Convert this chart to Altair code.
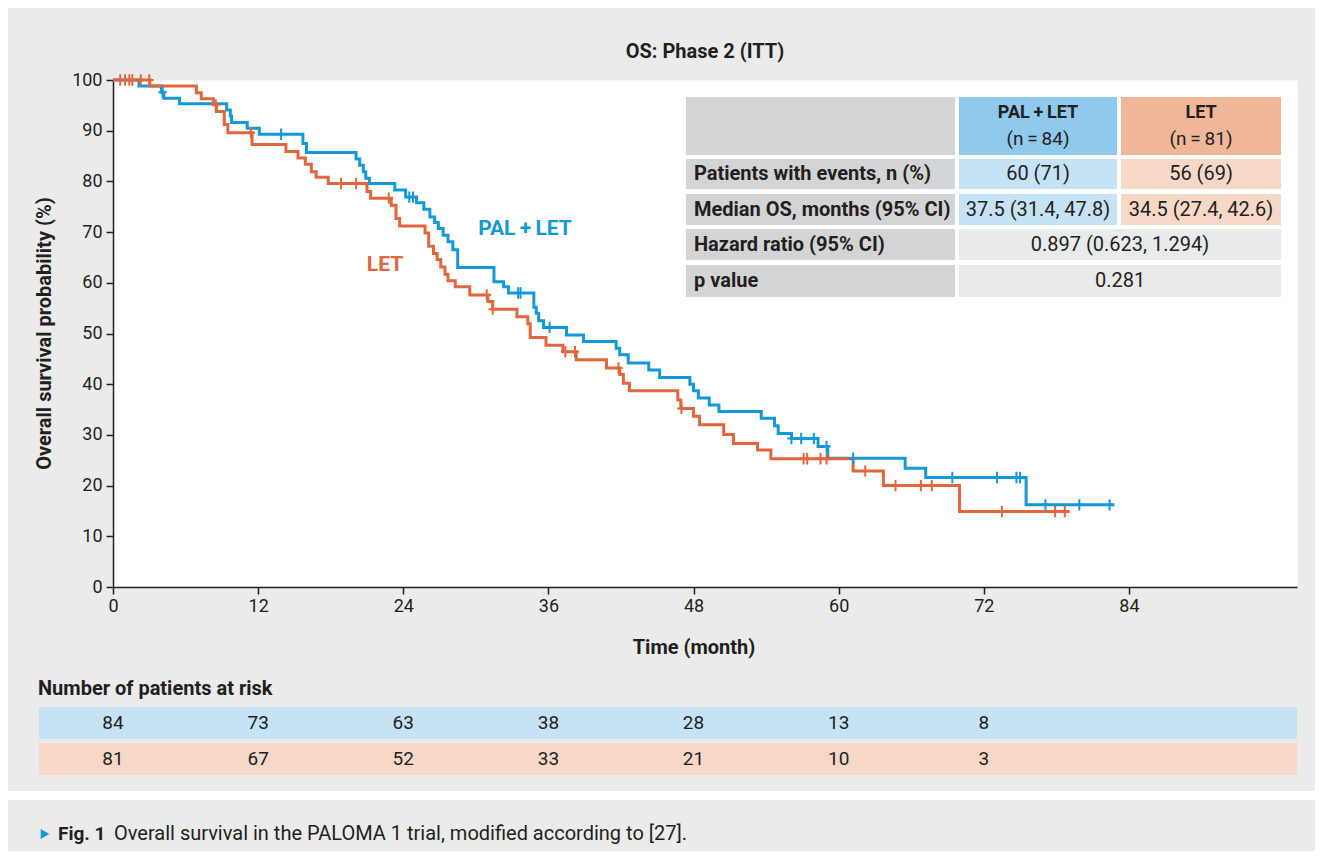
import altair as alt
import pandas as pd

# ---------------- data ----------------
x_ticks = [0, 12, 24, 36, 48, 60, 72, 84]
y_ticks = [0, 10, 20, 30, 40, 50, 60, 70, 80, 90, 100]

pal_times = [0, 2.15, 4.0, 4.2, 5.5, 9.4, 9.7, 9.8, 11.1, 12.1, 15.7, 16.0, 20.1, 20.4, 20.7,
             20.9, 21.2, 23.3, 24.2, 25.1, 25.7, 26.2, 26.6, 26.9, 27.3, 27.7, 28.1, 28.5, 31.5,
             32.3, 32.7, 34.8, 35.0, 35.2, 35.6, 37.5, 38.9, 41.6, 41.9, 42.6, 44.3, 45.2, 47.7,
             48.0, 48.4, 49.3, 50.1, 53.6, 54.7, 55.0, 56.1, 58.3, 59.1, 65.5, 67.2, 75.5, 82.8]
pal_surv = [100, 98.8, 97.6, 96.4, 95.3, 94.1, 92.9, 91.6, 90.5, 89.3, 87.5, 85.7, 84.4, 83.2, 81.9,
            80.6, 79.6, 78.3, 76.9, 75.8, 74.5, 73.0, 71.9, 70.7, 69.4, 68.1, 66.5, 63.0, 60.2,
            59.2, 58.0, 55.2, 54.0, 52.5, 51.2, 49.7, 48.4, 47.1, 45.8, 44.2, 42.8, 41.3, 40.0,
            38.7, 37.3, 35.9, 34.6, 33.3, 31.8, 30.3, 29.3, 27.7, 25.4, 23.4, 21.6, 16.2, 16.2]
pal_censor = [4.1, 13.9, 24.5, 24.8, 33.5, 33.7, 36.1, 56.1, 56.9, 57.95, 59.0, 61.2, 69.4,
              73.1, 74.7, 75.0, 77.1, 79.9, 82.4]

let_times = [0, 3.05, 6.9, 7.3, 8.3, 8.55, 9.2, 9.5, 11.5, 14.3, 15.3, 15.9, 16.4, 16.8, 17.8,
             21.0, 21.3, 23.0, 23.4, 23.7, 25.8, 26.1, 26.5, 26.8, 27.1, 27.45, 27.7, 28.3, 29.5,
             31.0, 31.4, 33.4, 34.3, 34.5, 35.8, 37.2, 38.3, 40.8, 41.9, 42.2, 42.7, 46.7, 46.95,
             48.0, 48.5, 50.5, 51.3, 53.3, 54.4, 61.2, 63.7, 70.0, 79.1]
let_surv = [100, 98.8, 97.5, 96.3, 95.1, 93.8, 91.2, 89.6, 87.3, 85.9, 84.6, 83.4, 81.9, 80.8, 79.6,
            78.0, 76.7, 75.3, 72.7, 71.2, 69.8, 67.2, 65.8, 64.6, 63.1, 61.7, 60.4, 59.2, 57.6,
            56.3, 54.8, 53.3, 51.9, 49.2, 47.7, 46.4, 44.8, 43.2, 41.9, 40.2, 38.7, 36.9, 35.2,
            33.7, 32.0, 30.1, 28.3, 27.0, 25.3, 22.9, 20.0, 14.9, 14.9]
let_censor = [0.6, 1.0, 1.35, 1.6, 2.3, 3.0, 8.5, 11.4, 18.85, 20.1, 22.8, 30.9, 31.4, 37.4, 38.2,
              41.8, 47.0, 57.1, 57.4, 58.5, 59.0, 62.2, 64.7, 66.8, 67.7, 73.5, 77.9, 78.7]

risk_months = [0, 12, 24, 36, 48, 60, 72]
risk_pal = [84, 73, 63, 38, 28, 13, 8]
risk_let = [81, 67, 52, 33, 21, 10, 3]

table_labels = ["Patients with events, n (%)", "Median OS, months (95% CI)",
                "Hazard ratio (95% CI)", "p value"]
table_pal = ["60 (71)", "37.5 (31.4, 47.8)"]
table_let = ["56 (69)", "34.5 (27.4, 42.6)"]
table_shared = ["0.897 (0.623, 1.294)", "0.281"]

# ---------------- style ----------------
FONT = "Roboto"
BLUE = "#1399D7"
ORANGE = "#E2663C"
INK = "#231F20"
BG = "#EAEBEA"

W, H = 1184, 507
XMAX = 97.9
PXM = W / XMAX      # px per month
PXP = H / 100.0     # px per percent


def mx(px):  # page x -> month
    return (px - 113) / PXM


def my(py):  # page y -> percent
    return (587 - py) / PXP


xs = alt.Scale(domain=[0, XMAX], nice=False, zero=False)
ys = alt.Scale(domain=[0, 100], nice=False, zero=False)
xaxis = alt.Axis(values=x_ticks, title=None, labelFlush=False, labelOverlap=False,
                 labelPadding=3, grid=False)
yaxis = alt.Axis(values=y_ticks, title=None, labelOverlap=False, labelPadding=4, grid=False)


def step_lookup(times, surv, t):
    v = surv[0]
    for ti, si in zip(times, surv):
        if ti <= t:
            v = si
    return v


pal_df = pd.DataFrame({"t": pal_times, "s": pal_surv})
let_df = pd.DataFrame({"t": let_times, "s": let_surv})
cens_df = pd.DataFrame(
    [{"t": c, "s": step_lookup(pal_times, pal_surv, c), "col": BLUE} for c in pal_censor]
    + [{"t": c, "s": step_lookup(let_times, let_surv, c), "col": ORANGE} for c in let_censor]
)

# ---------------- layout frames (page pixels -> data units) ----------------
rects = []
rects.append(dict(x1=mx(0), x2=mx(1330), y1=my(791), y2=my(800), fill="#FFFFFF"))
cols = [(686, 955), (959, 1117), (1121, 1281)]
rows = [(97, 155), (159, 189), (194, 225), (229, 260), (265, 297)]
fills = [
    ["#D3D4D5", "#8FC9ED", "#EFB699"],
    ["#D3D4D5", "#C6E2F5", "#F7D8C7"],
    ["#D3D4D5", "#C6E2F5", "#F7D8C7"],
    ["#D3D4D5", "#E9EAEA", None],
    ["#D3D4D5", "#E9EAEA", None],
]
for ri, (ya, yb) in enumerate(rows):
    for ci, (xa, xb) in enumerate(cols):
        f = fills[ri][ci]
        if f is None:
            continue
        if ri >= 3 and ci == 1:
            xb = cols[2][1]
        rects.append(dict(x1=mx(xa), x2=mx(xb), y1=my(ya), y2=my(yb), fill=f))
rects.append(dict(x1=mx(39), x2=mx(1297), y1=my(707), y2=my(739), fill="#C6E2F5"))
rects.append(dict(x1=mx(39), x2=mx(1297), y1=my(743), y2=my(775), fill="#F7D8C7"))
rect_df = pd.DataFrame(rects)

# text rows: x, y, text, color, size
bold_center = [
    dict(x=mx(705), y=my(52), text="OS: Phase 2 (ITT)", col=INK, fs=20),
    dict(x=mx(694), y=my(648), text="Time (month)", col=INK, fs=20),
    dict(x=mx(525), y=my(229), text="PAL\u2009+\u2009LET", col=BLUE, fs=21),
    dict(x=mx(385), y=my(265), text="LET", col=ORANGE, fs=21),
    dict(x=mx(1038), y=my(113), text="PAL\u2009+\u2009LET", col=INK, fs=18),
    dict(x=mx(1201), y=my(113), text="LET", col=INK, fs=18),
]
reg_center = [
    dict(x=mx(1038), y=my(139), text="(n\u2009=\u200984)", col=INK, fs=19),
    dict(x=mx(1201), y=my(139), text="(n\u2009=\u200981)", col=INK, fs=19),
]
row_mid = [174, 210, 245, 281]
bold_left = [dict(x=mx(694), y=my(row_mid[i]), text=lab, col=INK, fs=20)
             for i, lab in enumerate(table_labels)]
bold_left.append(dict(x=mx(38), y=my(689), text="Number of patients at risk", col=INK, fs=20))
bold_left.append(dict(x=mx(58), y=my(834), text="Fig. 1", col=INK, fs=19))
for i in range(2):
    reg_center.append(dict(x=mx(1038), y=my(row_mid[i]), text=table_pal[i], col=INK, fs=20))
    reg_center.append(dict(x=mx(1201), y=my(row_mid[i]), text=table_let[i], col=INK, fs=20))
for i in range(2):
    reg_center.append(dict(x=mx(1120), y=my(row_mid[2 + i]), text=table_shared[i], col=INK, fs=20))
for m, a, b in zip(risk_months, risk_pal, risk_let):
    reg_center.append(dict(x=m, y=my(723), text=str(a), col=INK, fs=19))
    reg_center.append(dict(x=m, y=my(759), text=str(b), col=INK, fs=19))
reg_left = [dict(x=mx(114), y=my(834),
                 text="Overall survival in the PALOMA 1 trial, modified according to [27].",
                 col=INK, fs=20)]
rot = [dict(x=mx(45), y=my(333.5), text="Overall survival probability (%)", col=INK, fs=20)]
tri = pd.DataFrame([dict(x=mx(45), y=my(834))])


def tx(field):
    return alt.X(f"{field}:Q", scale=xs, axis=xaxis)


def ty(field):
    return alt.Y(f"{field}:Q", scale=ys, axis=yaxis)


def text_layer(rows_, weight, align, angle=0):
    return alt.Chart(pd.DataFrame(rows_)).mark_text(
        font=FONT, fontWeight=weight, align=align, baseline="middle", angle=angle
    ).encode(
        x=tx("x"), y=ty("y"), text="text:N",
        color=alt.Color("col:N", scale=None),
        size=alt.Size("fs:Q", scale=None),
    )


rect_layer = alt.Chart(rect_df).mark_rect().encode(
    x=tx("x1"), x2="x2", y=ty("y1"), y2="y2", color=alt.Color("fill:N", scale=None)
)

blue_line = alt.Chart(pal_df).mark_line(
    interpolate="step-after", strokeWidth=3, color=BLUE
).encode(x=tx("t"), y=ty("s"))
orange_line = alt.Chart(let_df).mark_line(
    interpolate="step-after", strokeWidth=3, color=ORANGE
).encode(x=tx("t"), y=ty("s"))

censor = alt.Chart(cens_df).mark_point(
    shape="M0,-1V1M-0.75,0H0.75", filled=False, size=130, strokeWidth=2, opacity=1
).encode(x=tx("t"), y=ty("s"), color=alt.Color("col:N", scale=None))

triangle = alt.Chart(tri).mark_point(
    shape="triangle-right", filled=True, size=100, color=BLUE, opacity=1
).encode(x=tx("x"), y=ty("y"))

chart = alt.layer(
    rect_layer,
    blue_line,
    orange_line,
    censor,
    text_layer(bold_center, "bold", "center"),
    text_layer(reg_center, "normal", "center"),
    text_layer(bold_left, "bold", "left"),
    text_layer(reg_left, "normal", "left"),
    text_layer(rot, "bold", "center", angle=270),
    triangle,
).properties(
    width=W, height=H,
    autosize=alt.AutoSizeParams(type="none"),
    padding={"left": 105, "top": 72, "right": 18, "bottom": 264},
    background=BG,
).configure_view(
    fill="white", stroke="transparent"
).configure_axis(
    labelFont=FONT, labelFontSize=18, labelColor=INK,
    domainColor=INK, tickColor=INK, domainWidth=1.5, tickWidth=1.5, tickSize=7,
    grid=False,
)

chart.save("out.html", embed_options={"renderer": "svg", "actions": False})
